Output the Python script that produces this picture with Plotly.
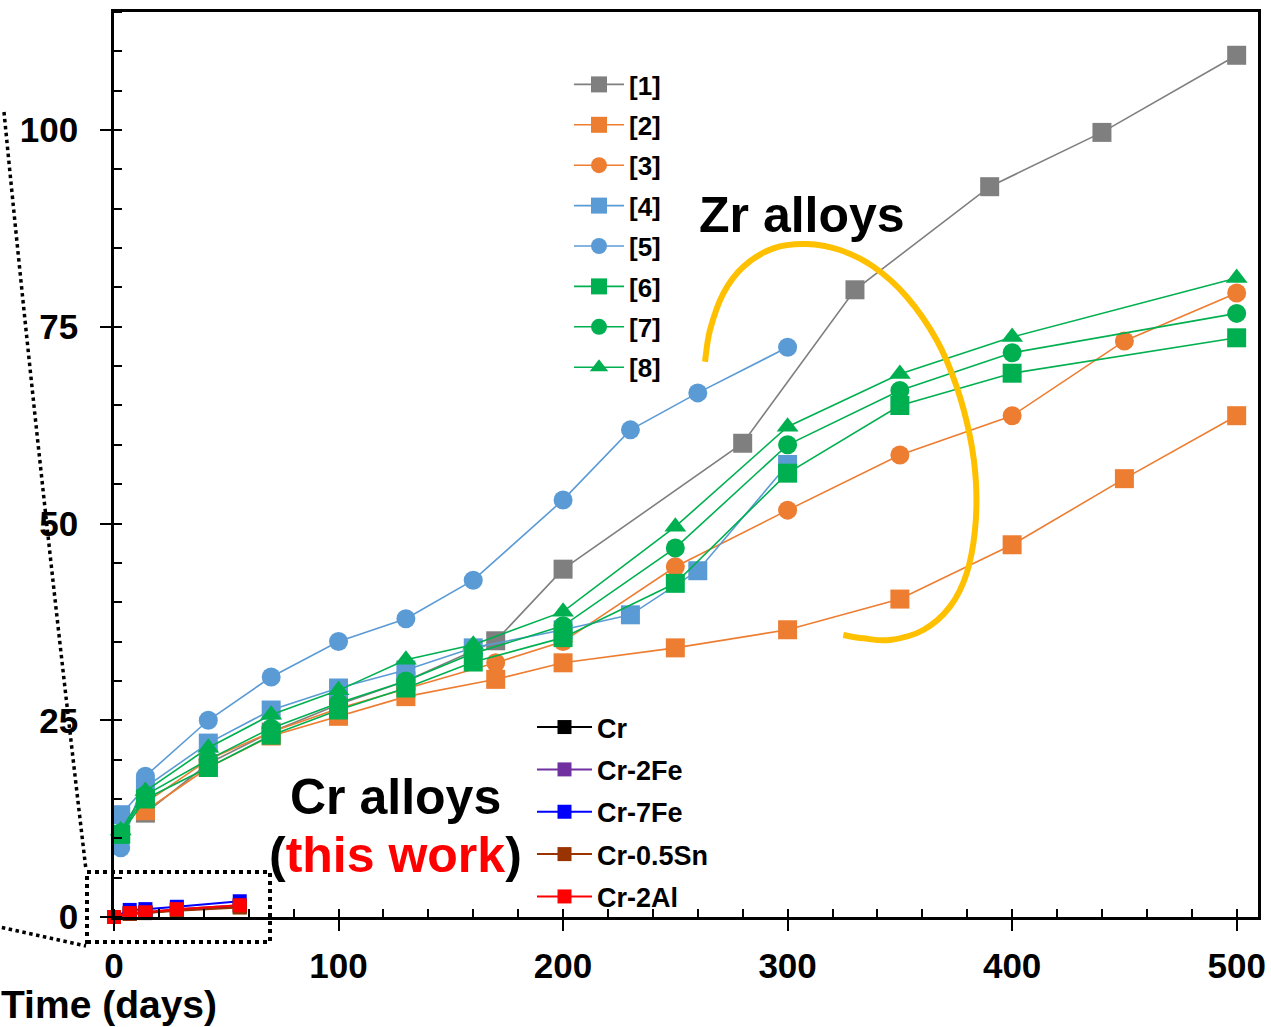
import plotly.graph_objects as go

# ---------------- data ----------------
zr_names = ["[1]", "[2]", "[3]", "[4]", "[5]", "[6]", "[7]", "[8]"]
days_1 = [14, 42, 70, 100, 130, 170, 200, 280, 330, 390, 440, 500]
gain_1 = [13.2, 19.5, 23.5, 27.0, 30.0, 35.1, 44.2, 60.2, 79.7, 92.8, 99.7, 109.5]
days_2 = [14, 42, 70, 100, 130, 170, 200, 250, 300, 350, 400, 450, 500]
gain_2 = [13.5, 19.0, 23.0, 25.5, 28.0, 30.2, 32.3, 34.2, 36.5, 40.4, 47.3, 55.7, 63.7]
days_3 = [14, 42, 70, 100, 130, 170, 200, 250, 300, 350, 400, 450, 500]
gain_3 = [14.5, 20.0, 23.5, 26.5, 29.0, 32.3, 35.0, 44.5, 51.7, 58.7, 63.7, 73.2, 79.3]
days_4 = [3, 14, 42, 70, 100, 130, 160, 200, 230, 260, 300]
gain_4 = [13.0, 16.5, 22.1, 26.3, 29.1, 31.4, 34.2, 36.5, 38.4, 44.0, 57.5]
days_5 = [3, 14, 42, 70, 100, 130, 160, 200, 230, 260, 300]
gain_5 = [8.8, 17.9, 25.0, 30.5, 35.0, 37.9, 42.8, 53.0, 61.9, 66.6, 72.4]
days_678 = [3, 14, 42, 70, 100, 130, 160, 200, 250, 300, 350, 400, 500]
gain_6 = [10.5, 15.0, 19.0, 23.1, 26.3, 29.1, 32.4, 35.5, 42.4, 56.4, 65.0, 69.1, 73.6]
gain_7 = [10.7, 15.5, 20.0, 24.0, 27.2, 30.0, 33.5, 37.0, 46.9, 60.0, 66.9, 71.7, 76.7]
gain_8 = [11.0, 16.0, 21.5, 25.7, 28.8, 32.7, 34.6, 38.8, 49.6, 62.3, 69.0, 73.7, 81.2]

cr_names = ["Cr", "Cr-2Fe", "Cr-7Fe", "Cr-0.5Sn", "Cr-2Al"]
cr_days = [0, 7, 14, 28, 56]
gain_cr = [0.0, 0.4, 0.5, 0.9, 1.3]
gain_cr2fe = [0.0, 0.5, 0.6, 1.0, 1.5]
gain_cr7fe = [0.0, 0.9, 1.0, 1.3, 2.0]
gain_cr05sn = [0.0, 0.4, 0.5, 0.8, 1.2]
gain_cr2al = [0.0, 0.5, 0.6, 1.0, 1.5]

x_ticks = [0, 100, 200, 300, 400, 500]
y_ticks = [0, 25, 50, 75, 100]

# ---------------- styles ----------------
GRAY, ORANGE, BLUE, GREEN = "#7F7F7F", "#ED7D31", "#5B9BD5", "#00B050"
FONT = "Liberation Sans, Arial, sans-serif"

zr_series = [
    (days_1, gain_1, GRAY, "square"),
    (days_2, gain_2, ORANGE, "square"),
    (days_3, gain_3, ORANGE, "circle"),
    (days_4, gain_4, BLUE, "square"),
    (days_5, gain_5, BLUE, "circle"),
    (days_678, gain_6, GREEN, "square"),
    (days_678, gain_7, GREEN, "circle"),
    (days_678, gain_8, GREEN, "triangle-up"),
]
cr_series = [
    (gain_cr, "#000000"),
    (gain_cr2fe, "#7030A0"),
    (gain_cr7fe, "#0000FF"),
    (gain_cr05sn, "#993300"),
    (gain_cr2al, "#FF0000"),
]

fig = go.Figure()
for name, (xs, ys, col, sym) in zip(zr_names, zr_series):
    fig.add_trace(go.Scatter(
        x=xs, y=ys, name=name, mode="lines+markers",
        line=dict(color=col, width=1.6),
        marker=dict(symbol=sym, size=19, color=col),
        legend="legend", legendgroup=name, cliponaxis=False))
for name, (ys, col) in zip(cr_names, cr_series):
    fig.add_trace(go.Scatter(
        x=cr_days, y=ys, name=name, mode="lines+markers",
        line=dict(color=col, width=2),
        marker=dict(symbol="square", size=14, color=col),
        legend="legend2", legendgroup=name, cliponaxis=False))

# ---------------- geometry helpers (pixel -> paper) ----------------
L, R, T, B = 114, 1258, 12, 917
W, H = 1271, 1027
def px(x):
    return (x - L) / (R - L)
def py(y):
    return (B - y) / (B - T)

def catmull_path(pts):
    p = [(px(a), py(b)) for a, b in pts]
    d = "M %.5f,%.5f" % p[0]
    for i in range(len(p) - 1):
        p0 = p[i - 1] if i > 0 else p[i]
        p1, p2 = p[i], p[i + 1]
        p3 = p[i + 2] if i + 2 < len(p) else p[i + 1]
        c1 = (p1[0] + (p2[0] - p0[0]) / 6, p1[1] + (p2[1] - p0[1]) / 6)
        c2 = (p2[0] - (p3[0] - p1[0]) / 6, p2[1] - (p3[1] - p1[1]) / 6)
        d += " C %.5f,%.5f %.5f,%.5f %.5f,%.5f" % (c1 + c2 + p2)
    return d

arc_zoom = [(45, 395), (60, 300), (100, 190), (160, 110), (250, 55), (350, 42),
            (450, 60), (550, 110), (650, 200), (740, 330), (800, 470), (840, 620),
            (858, 760), (855, 900), (830, 1030), (780, 1130), (700, 1200),
            (600, 1230), (520, 1225), (460, 1215)]
arc_px = [(690 + u / 3, 230 + v / 3) for u, v in arc_zoom]

shapes = [
    dict(type="path", xref="paper", yref="paper", path=catmull_path(arc_px),
         line=dict(color="#FFC000", width=6)),
    dict(type="rect", xref="paper", yref="paper",
         x0=px(87), x1=px(270), y0=py(942), y1=py(872),
         line=dict(color="black", width=4, dash="dot")),
    dict(type="path", xref="paper", yref="paper",
         path="M %.5f,%.5f Q %.5f,%.5f %.5f,%.5f" % (px(4), py(112), px(39), py(470), px(86), py(870)),
         line=dict(color="black", width=3.5, dash="dot")),
    dict(type="line", xref="paper", yref="paper",
         x0=px(-5), y0=py(926), x1=px(86), y1=py(946),
         line=dict(color="black", width=3.5, dash="dot")),
]

annotations = [
    dict(text="<b>Zr alloys</b>", x=px(802), y=py(215), xref="paper", yref="paper",
         xanchor="center", yanchor="middle",
         showarrow=False, font=dict(family=FONT, size=50, color="black")),
    dict(text="<b>Cr alloys</b>", x=px(395), y=py(797), xref="paper", yref="paper",
         xanchor="center", yanchor="middle",
         showarrow=False, font=dict(family=FONT, size=50, color="black")),
    dict(text="<b>(<span style='color:#FF0000'>this work</span>)</b>", x=px(395), y=py(855),
         xref="paper", yref="paper", xanchor="center", yanchor="middle",
         showarrow=False, font=dict(family=FONT, size=50, color="black")),
    dict(text="<b>Time (days)</b>", x=px(109), y=py(1005), xref="paper", yref="paper",
         xanchor="center", yanchor="middle", showarrow=False,
         font=dict(family=FONT, size=39, color="black")),
]

axis_common = dict(showgrid=False, zeroline=False, showline=True, linecolor="black",
                   linewidth=2.5, mirror=True, ticks="outside", ticklen=11, tickwidth=2,
                   tickcolor="black", automargin=False,
                   tickfont=dict(family=FONT, size=35, color="black", weight="bold"))

fig.update_layout(
    width=W, height=H,
    margin=dict(l=L, r=W - R, t=T, b=H - B, autoexpand=False),
    plot_bgcolor="white", paper_bgcolor="white",
    showlegend=True,
    xaxis=dict(range=[0, 509.5], tickvals=x_ticks, ticklabelstandoff=5,
               minor=dict(ticks="inside", dtick=20, ticklen=8, tickwidth=1.5, tickcolor="black"),
               **axis_common),
    yaxis=dict(range=[0, 115], tickvals=y_ticks, ticklabelstandoff=15,
               minor=dict(ticks="inside", dtick=5, ticklen=8, tickwidth=1.5, tickcolor="black"),
               **axis_common),
    xaxis2=dict(overlaying="x", anchor="y2", range=[0, 509.5], tickvals=x_ticks,
                showticklabels=False, ticks="inside", ticklen=11, tickwidth=2,
                tickcolor="black", showgrid=False, zeroline=False, showline=False),
    yaxis2=dict(overlaying="y", anchor="x2", range=[0, 115], tickvals=y_ticks,
                showticklabels=False, ticks="inside", ticklen=11, tickwidth=2,
                tickcolor="black", showgrid=False, zeroline=False, showline=False),
    legend=dict(x=px(569), y=py(61), xanchor="left", yanchor="top",
                bgcolor="rgba(0,0,0,0)", borderwidth=0, itemwidth=50,
                tracegroupgap=3.6,
                font=dict(family=FONT, size=26, color="black", weight="bold")),
    legend2=dict(x=px(532), y=py(703), xanchor="left", yanchor="top",
                 bgcolor="rgba(0,0,0,0)", borderwidth=0, itemwidth=55,
                 tracegroupgap=4.25,
                 font=dict(family=FONT, size=27, color="black", weight="bold")),
    shapes=shapes,
    annotations=annotations,
)

fig.write_html("out.html", config={"displayModeBar": False},
               post_script="document.body.style.margin='0';")
